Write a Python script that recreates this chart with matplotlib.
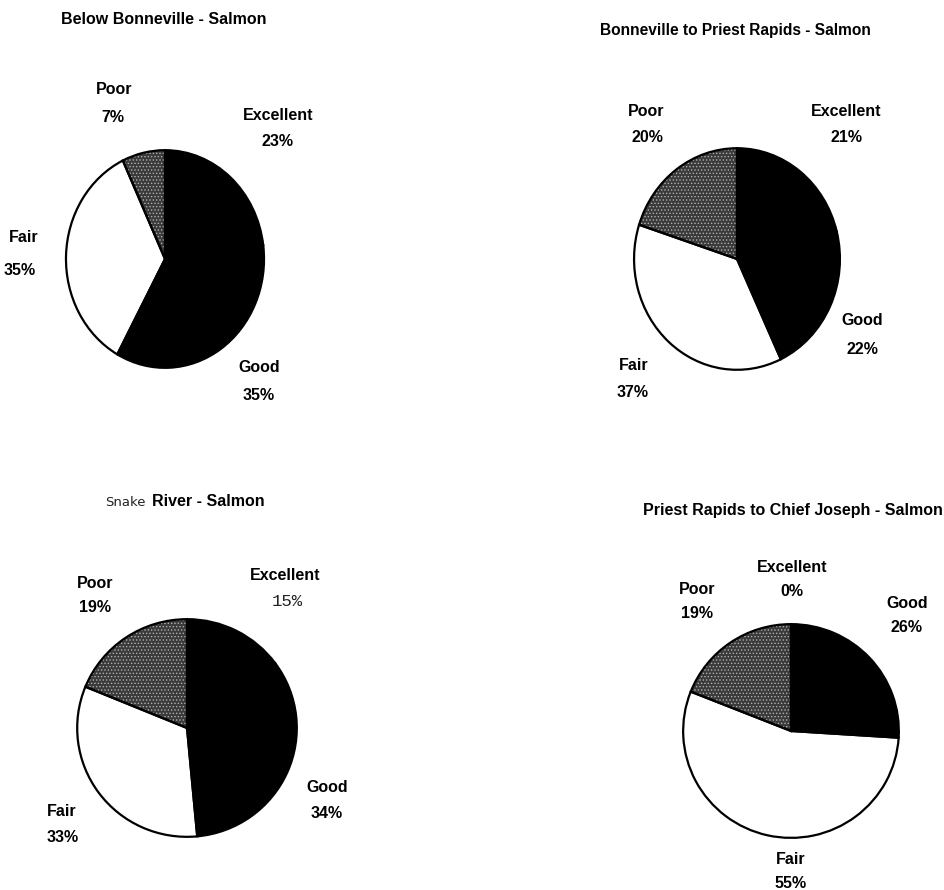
import matplotlib
matplotlib.use("Agg")
import matplotlib.pyplot as plt

# ---- data ----
categories = ["Excellent", "Good", "Fair", "Poor"]
titles = [
    "Below Bonneville - Salmon",
    "Bonneville to Priest Rapids - Salmon",
    "Snake River - Salmon",
    "Priest Rapids to Chief Joseph - Salmon",
]
below_bonneville = [23, 35, 35, 7]
bonneville_priest = [21, 22, 37, 20]
snake_river = [15, 34, 33, 19]
priest_chief = [0, 26, 55, 19]
series = [below_bonneville, bonneville_priest, snake_river, priest_chief]

slice_colors = ["#000000", "#000000", "#ffffff", "#3a3a3a"]
slice_hatch = [None, None, None, "....."]

plt.rcParams["hatch.linewidth"] = 0.6

W, H = 945, 890
fig = plt.figure(figsize=(W / 100, H / 100), dpi=100)
fig.patch.set_facecolor("white")

# pie geometry in pixels: (cx, cy, rx, ry)
geom = [
    (165, 259, 101, 111),
    (737, 259, 105, 113),
    (187, 728, 112, 111),
    (791, 731, 110, 109),
]
# title centres (pixels)
title_pos = [(164, 20), (735, 30), (180, 502), (793, 510)]
# label / percentage centres per category (pixels)
label_pos = [
    {"Excellent": ((278, 116), (278, 142)), "Good": ((259, 368), (259, 395)),
     "Fair": ((24, 237), (20, 270)), "Poor": ((114, 90), (113, 117))},
    {"Excellent": ((846, 112), (847, 137)), "Good": ((862, 321), (862, 349)),
     "Fair": ((634, 365), (633, 392)), "Poor": ((646, 112), (647, 137))},
    {"Excellent": ((285, 575), (287, 602)), "Good": ((327, 788), (327, 813)),
     "Fair": ((62, 812), (63, 837)), "Poor": ((95, 583), (95, 607))},
    {"Excellent": ((792, 568), (792, 592)), "Good": ((907, 604), (907, 628)),
     "Fair": ((791, 860), (791, 883)), "Poor": ((697, 589), (697, 613))},
]

bold = dict(family=["Liberation Sans", "DejaVu Sans"], weight="bold", fontsize=11.5)


def fx(x):
    return x / W


def fy(y):
    return 1 - y / H


for i, vals in enumerate(series):
    cx, cy, rx, ry = geom[i]
    ax = fig.add_axes([fx(cx - rx), fy(cy + ry), 2 * rx / W, 2 * ry / H])
    # filled slices (with stipple texture for Poor)
    wedges, _ = ax.pie(vals, colors=slice_colors, startangle=90, counterclock=False,
                       radius=1, center=(0, 0),
                       wedgeprops=dict(linewidth=0))
    for w, h in zip(wedges, slice_hatch):
        if h:
            w.set_hatch(h)
            w.set_edgecolor("#b0b0b0")
            w.set_linewidth(0)
    # outlines on top
    ax.pie(vals, colors=["none"] * len(vals), startangle=90, counterclock=False,
           radius=1, center=(0, 0),
           wedgeprops=dict(edgecolor="black", linewidth=1.6, facecolor="none"))
    ax.set_aspect("auto")
    ax.set_xlim(-1.02, 1.02)
    ax.set_ylim(-1.02, 1.02)
    ax.axis("off")

    # title
    tx, ty = title_pos[i]
    if i == 2:
        fig.text(fx(146), fy(ty), "Snake", ha="right", va="center",
                 family="DejaVu Sans", fontsize=9.5, color="#222222")
        fig.text(fx(152), fy(ty), "River - Salmon", ha="left", va="center", **bold)
    else:
        fs = 11.2 if i == 1 else 11.5
        fig.text(fx(tx), fy(ty), titles[i], ha="center", va="center",
                 **{**bold, "fontsize": fs})

    for cat, v in zip(categories, vals):
        (lx, ly), (px, py) = label_pos[i][cat]
        fig.text(fx(lx), fy(ly), cat, ha="center", va="center", **bold)
        if i == 2 and cat == "Excellent":
            fig.text(fx(px), fy(py), f"{v}%", ha="center", va="center",
                     family=["Liberation Mono", "DejaVu Sans Mono"], fontsize=12.5,
                     color="#222222")
        else:
            fig.text(fx(px), fy(py), f"{v}%", ha="center", va="center", **bold)

fig.savefig("out.png", dpi=100, facecolor="white")
